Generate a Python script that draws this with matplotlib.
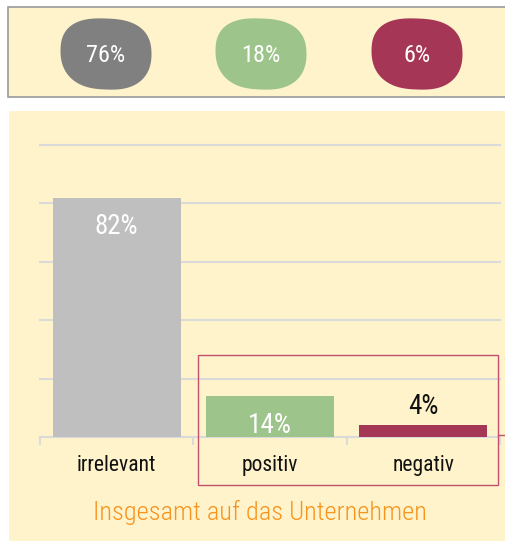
import numpy as np
import matplotlib
matplotlib.use("Agg")
import matplotlib.pyplot as plt
from matplotlib.patches import Rectangle, Polygon

# top row: overall share per sentiment
top_labels = ["76%", "18%", "6%"]
top_colors = ["#808080", "#9dc48a", "#a63656"]

# bar chart: impact on the company
categories = ["irrelevant", "positiv", "negativ"]
values = [82, 14, 4]
bar_colors = ["#bfbfbf", "#9dc48a", "#a63656"]
title = "Insgesamt auf das Unternehmen"

plt.rcParams['font.family'] = ['Roboto Condensed', 'Roboto', 'DejaVu Sans']

W, H = 506, 541
fig = plt.figure(figsize=(W / 100, H / 100), dpi=100)
fig.patch.set_facecolor("white")

def px_rect(x0, y0, x1, y1, **kw):
    # rectangle in pixel coords (y from top)
    return Rectangle((x0 / W, 1 - y1 / H), (x1 - x0) / W, (y1 - y0) / H,
                     transform=fig.transFigure, **kw)

bg = "#fef3cb"
fig.patches.append(px_rect(8, 7, 508, 97, facecolor=bg, edgecolor="#9a9a9a",
                           lw=1.2, zorder=-5))
fig.patches.append(px_rect(9, 111, 506, 541, facecolor=bg, edgecolor="none",
                           zorder=-5))

# blobs in the top box
bax = fig.add_axes([8 / W, 1 - 97 / H, 498 / W, 90 / H])
bax.set_xlim(8, 506)
bax.set_ylim(97, 7)
bax.axis("off")

def blob(cx, cy, rx, ry, tilt):
    t = np.linspace(0, 2 * np.pi, 200)
    p = 2.6
    c, s = np.cos(t), np.sin(t)
    x = np.sign(c) * np.abs(c) ** (2 / p) * rx
    y = np.sign(s) * np.abs(s) ** (2 / p) * ry
    # narrower towards the bottom, a bit lopsided
    x = x * (1 - 0.08 * np.clip(s, 0, None))
    y = y + tilt * x / rx * 2
    return np.column_stack([cx + x, cy + y])

centers = [106, 261, 417]
for cx, lab, col in zip(centers, top_labels, top_colors):
    bax.add_patch(Polygon(blob(cx, 54, 45.5, 35.5, 0.8), closed=True,
                          facecolor=col, edgecolor="none"))
    bax.text(cx, 56, lab, color="white", fontsize=17.5,
             ha="center", va="center")

# bar chart
ax = fig.add_axes([40 / W, 1 - 437 / H, 460 / W, 292 / H])
ax.set_facecolor("none")
x = np.arange(len(categories))
ax.bar(x, values, width=0.835, color=bar_colors, zorder=3)
ax.set_xlim(-0.5, 2.5)
ax.set_ylim(0, 100)
ax.set_yticks([20, 40, 60, 80, 100])
ax.yaxis.grid(True, color="#dadada", lw=1.5, zorder=0)
for gl in ax.get_ygridlines():
    gl.set_clip_on(False)
ax.tick_params(axis="y", length=0, labelleft=False)
for sp in ["top", "right", "left"]:
    ax.spines[sp].set_visible(False)
ax.spines["bottom"].set_color("#dadada")
ax.spines["bottom"].set_linewidth(1.5)
ax.set_xticks(x)
ax.set_xticklabels(categories, fontsize=15.5, color="#111111")
ax.tick_params(axis="x", length=0, pad=13)
ax.set_xticks([-0.5, 0.5, 1.5, 2.5], minor=True)
ax.tick_params(axis="x", which="minor", length=6, color="#dadada", width=1.5)

for i, v in enumerate(values):
    if v > 10:
        ax.text(i, v - 10, f"{v}%", color="white", fontsize=19.5,
                ha="center", va="center", zorder=4)
    else:
        ax.text(i, v + 6.5, f"{v}%", color="#111111", fontsize=19.5,
                ha="center", va="center", zorder=4)

# highlight box around positiv / negativ
fig.patches.append(px_rect(198, 355, 498, 485, facecolor="none",
                           edgecolor="#c4506f", lw=1))
fig.lines.append(plt.Line2D([498 / W, 1], [1 - 435 / H, 1 - 435 / H],
                            transform=fig.transFigure, color="#c4506f", lw=1))

fig.text(260 / W, 1 - 512 / H, title, color="#f7941d", fontsize=19,
         fontweight="light", ha="center", va="center")

fig.savefig("out.png", dpi=100)
